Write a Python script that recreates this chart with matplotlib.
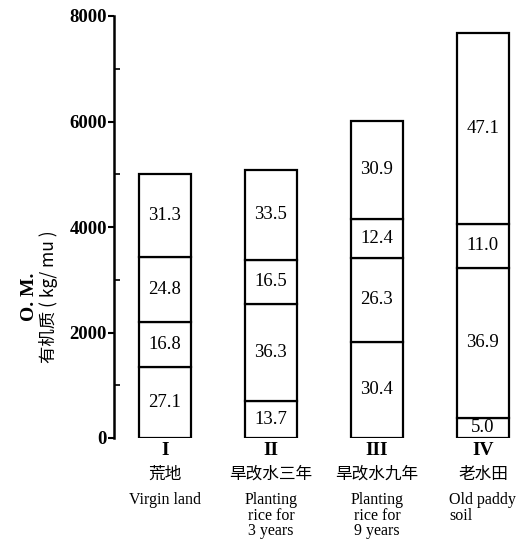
import matplotlib
matplotlib.use("Agg")
import matplotlib.pyplot as plt
import numpy as np

# Data
numerals = ["I", "II", "III", "IV"]
names_cn = ["荒地", "旱改水三年", "旱改水九年", "老水田"]
names_en = ["Virgin land", "Planting\nrice for\n3 years", "Planting\nrice for\n9 years", "Old paddy\nsoil"]
totals = [5000, 5080, 6010, 7680]
# percentages from bottom to top
pcts = [
    [27.1, 16.8, 24.8, 31.3],
    [13.7, 36.3, 16.5, 33.5],
    [30.4, 26.3, 12.4, 30.9],
    [5.0, 36.9, 11.0, 47.1],
]
yticks = [0, 2000, 4000, 6000, 8000]

serif = ["Liberation Serif", "DejaVu Serif"]
cjk = ["Noto Sans CJK SC", "DejaVu Sans"]

fig = plt.figure(figsize=(5.30, 5.58), dpi=100)
ax = fig.add_axes([114/530, 120/558, 406/530, 422/558])

x = np.arange(len(totals))
width = 0.49
for i in range(len(totals)):
    bottom = 0.0
    for p in pcts[i]:
        h = totals[i] * p / 100.0
        ax.bar(x[i], h, width=width, bottom=bottom, facecolor="white",
               edgecolor="black", linewidth=1.6)
        ax.text(x[i], bottom + h / 2, f"{p:.1f}", ha="center", va="center",
                fontsize=13.5, family=serif)
        bottom += h

ax.set_xlim(-0.48, 3.35)
ax.set_ylim(0, 8000)
ax.set_yticks(yticks)
ax.set_yticklabels([str(t) for t in yticks], family=serif, fontweight="bold", fontsize=13.5)
ax.set_yticks([1000, 3000, 5000, 7000], minor=True)
ax.tick_params(axis="y", which="major", direction="out", length=4, width=1.5, pad=1)
ax.tick_params(axis="y", which="minor", direction="in", length=4, width=1.2)
ax.set_xticks([])
for s in ["top", "right", "bottom"]:
    ax.spines[s].set_visible(False)
ax.spines["left"].set_linewidth(1.8)

trans = ax.get_xaxis_transform()
for i in range(len(totals)):
    ax.annotate(numerals[i], (x[i], 0), xycoords=trans, xytext=(0, -3),
                textcoords="offset points", ha="center", va="top",
                fontsize=14, family=serif, fontweight="bold")
    ax.annotate(names_cn[i], (x[i], 0), xycoords=trans, xytext=(0, -20),
                textcoords="offset points", ha="center", va="top",
                fontsize=12, family=cjk)
    ax.annotate(names_en[i], (x[i], 0), xycoords=trans, xytext=(0, -39),
                textcoords="offset points", ha="center", va="top",
                fontsize=11.5, family=serif, linespacing=0.95,
                multialignment="left" if i == 3 else "center")

fig.text(30/530, 1 - 297/558, "O. M.", rotation=90, ha="center", va="center",
         fontsize=14, family=serif, fontweight="bold")
fig.text(49/530, 1 - 297/558, "有机质 ( kg/ mu )", rotation=90, ha="center", va="center",
         fontsize=12.5, family=cjk)

fig.savefig("out.png", dpi=100, facecolor="white")
